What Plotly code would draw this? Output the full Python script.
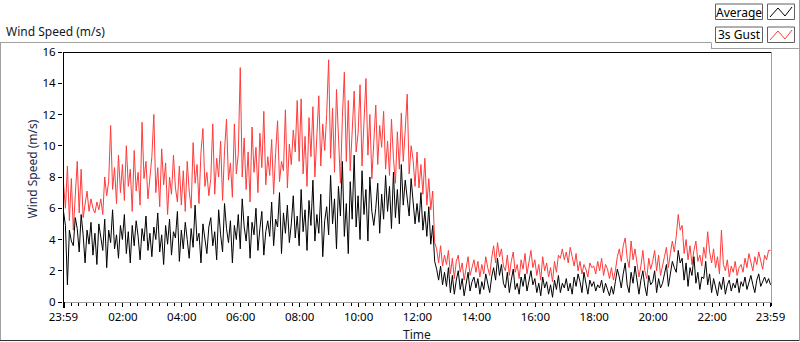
import plotly.graph_objects as go
import pandas as pd

# ---------------- data (4-minute samples) ----------------
start_time = "2024-01-01 23:59"
sample_minutes = 4

average_speed = [
    5.8, 4.9, 1.1, 4.6, 3.9, 3.6, 5.4, 4.7, 3.2, 5.6, 4.3, 2.5, 4.6, 3.7, 5.1,
    3.0, 4.4, 2.4, 5.0, 4.1, 3.3, 5.3, 2.2, 4.6, 3.8, 5.9, 3.4, 4.3, 2.8, 4.9,
    4.0, 5.6, 3.1, 4.5, 2.5, 4.9, 3.6, 5.2, 4.2, 2.7, 4.7, 3.9, 5.5, 3.3, 4.4,
    2.9, 4.8, 4.0, 5.7, 3.2, 4.3, 2.4, 4.9, 3.7, 5.3, 3.0, 4.5, 4.1, 5.8, 2.6,
    4.6, 3.4, 5.1, 4.0, 2.8, 4.7, 3.5, 6.2, 3.9, 4.4, 2.5, 5.0, 4.2, 3.1, 4.8,
    5.4, 3.6, 4.5, 2.7, 5.9, 4.3, 3.2, 6.3, 4.7, 3.8, 5.2, 2.5, 4.9, 4.0, 5.6,
    3.4, 6.6, 4.8, 3.9, 5.5, 2.8, 5.1, 4.3, 6.0, 3.3, 4.7, 5.8, 3.0, 4.5, 5.2,
    4.2, 6.4, 3.6, 5.3, 4.8, 7.0, 3.1, 5.7, 4.4, 6.2, 3.8, 5.0, 6.8, 4.1, 5.5,
    3.6, 7.2, 4.5, 5.9, 3.3, 6.5, 4.9, 7.8, 3.9, 5.6, 4.4, 6.9, 2.9, 5.2, 6.1,
    4.3, 8.1, 5.0, 6.6, 3.4, 7.4, 5.5, 9.0, 4.2, 6.3, 3.1, 7.7, 5.3, 9.4, 4.8,
    6.8, 4.0, 8.4, 5.6, 7.2, 3.9, 8.0, 5.8, 4.9, 6.0, 7.6, 4.4, 6.9, 5.3, 8.1,
    5.8, 7.4, 4.7, 8.3, 5.4, 7.2, 5.0, 8.8, 6.2, 7.8, 6.4, 5.5, 7.9, 6.4, 5.0,
    6.3, 5.1, 7.0, 4.6, 5.8, 4.2, 6.1, 3.7, 4.9, 2.6, 2.1, 1.4, 2.3, 1.1, 1.9,
    1.0, 2.2, 0.6, 1.7, 0.5, 1.4, 2.0, 0.8, 1.5, 0.4, 1.2, 1.9, 0.7, 1.3, 1.6,
    0.9, 1.5, 0.5, 1.3, 0.8, 1.8, 1.1, 0.6, 1.6, 2.2, 1.4, 2.8, 1.7, 2.4, 1.2,
    0.9, 1.9, 0.6, 1.4, 2.1, 0.8, 1.2, 0.5, 1.6, 1.0, 1.8, 0.7, 1.3, 2.0, 1.1,
    1.5, 0.6, 1.2, 0.4, 1.6, 0.9, 1.3, 0.5, 1.1, 0.3, 1.4, 0.8, 1.7, 0.6, 1.2,
    0.9, 1.5, 0.7, 1.2, 0.5, 1.6, 1.0, 1.8, 1.3, 0.6, 1.9, 1.1, 0.5, 1.4, 1.0,
    1.3, 0.7, 1.1, 0.9, 1.4, 0.6, 1.2, 0.8, 0.4, 1.0, 0.5, 1.3, 2.1, 1.6, 0.9,
    1.8, 2.5, 1.1, 0.6, 1.9, 1.2, 2.3, 1.5, 0.5, 1.4, 2.0, 1.0, 0.4, 1.7, 1.1,
    1.3, 2.0, 0.6, 1.5, 0.9, 1.2, 1.8, 2.4, 1.0, 1.7, 2.6, 2.2, 1.9, 3.3, 2.5,
    2.8, 1.4, 2.5, 1.0, 2.2, 1.7, 2.9, 1.2, 1.9, 0.8, 1.6, 1.5, 2.6, 1.1, 1.8,
    0.6, 1.5, 1.0, 0.4, 1.3, 0.8, 1.6, 0.5, 1.1, 1.4, 0.7, 1.2, 0.9, 1.5, 0.6,
    1.3, 1.0, 1.6, 0.8, 1.2, 1.7, 1.1, 0.6, 1.4, 1.8, 1.0, 1.3, 1.6, 1.2, 1.5,
    1.1,
]

gust_speed = [
    7.6, 6.0, 8.7, 5.2, 7.9, 4.6, 6.8, 9.0, 5.7, 8.5, 5.4, 6.3, 7.1, 5.8, 6.6,
    6.0, 5.7, 6.4, 5.9, 6.6, 5.6, 8.0, 6.8, 7.7, 11.3, 7.2, 8.6, 6.3, 9.4, 7.0,
    8.8, 6.5, 10.0, 7.4, 8.5, 5.8, 9.7, 7.1, 8.3, 6.2, 11.5, 7.9, 9.0, 6.6, 8.1,
    9.3, 12.0, 7.0, 8.6, 6.1, 9.8, 7.5, 8.9, 5.6, 8.0, 6.9, 9.4, 7.3, 6.4, 8.7,
    6.2, 8.4, 5.8, 9.0, 7.1, 6.0, 10.2, 7.6, 8.8, 6.3, 9.6, 11.1, 7.4, 8.3, 6.8,
    7.9, 11.4, 6.9, 9.2, 8.0, 10.3, 6.5, 9.7, 11.7, 7.8, 8.9, 6.7, 11.4, 8.2, 9.5,
    15.0, 8.0, 10.5, 7.2, 9.6, 6.4, 11.2, 8.3, 9.9, 7.0, 10.8, 8.6, 12.2, 7.5, 9.3,
    8.1, 10.4, 6.9, 9.5, 11.6, 7.7, 9.0, 8.4, 12.3, 7.3, 10.1, 8.8, 11.0, 9.6, 12.9,
    9.0, 13.0, 8.2, 10.6, 7.4, 11.8, 9.3, 12.5, 8.0, 10.2, 13.2, 8.7, 11.4, 9.7, 12.0,
    15.5, 9.2, 12.4, 8.3, 13.6, 10.1, 7.6, 11.8, 14.7, 9.0, 12.9, 8.4, 11.2, 13.5, 9.6,
    10.8, 13.9, 8.7, 11.5, 14.3, 9.4, 12.0, 7.9, 10.7, 12.6, 8.8, 11.3, 9.9, 12.2, 8.5,
    10.3, 8.1, 11.7, 9.2, 7.6, 10.9, 8.5, 12.1, 9.0, 11.0, 13.3, 8.2, 10.0, 9.1, 7.4,
    9.6, 7.3, 8.8, 6.9, 9.2, 6.2, 7.9, 5.9, 7.1, 3.8, 3.4, 2.5, 3.6, 2.3, 3.0,
    2.4, 3.3, 1.8, 2.8, 1.5, 2.6, 3.0, 1.9, 2.5, 1.4, 2.2, 2.9, 1.7, 2.3, 2.7,
    1.9, 2.6, 1.6, 2.4, 1.8, 2.9, 2.2, 1.7, 2.8, 3.6, 2.5, 3.8, 2.9, 3.4, 2.3,
    2.0, 3.0, 1.7, 2.6, 3.2, 1.9, 2.4, 1.5, 2.7, 2.1, 3.1, 1.8, 2.5, 3.3, 2.2,
    2.7, 1.7, 2.4, 1.4, 2.9, 2.0, 2.5, 1.6, 2.2, 1.3, 2.6, 1.9, 3.0, 2.8, 3.4,
    2.7, 3.2, 2.5, 3.5, 2.9, 2.3, 3.1, 2.0, 2.6, 1.8, 2.4, 2.1, 1.6, 2.5, 2.2,
    2.3, 1.8, 2.6, 2.0, 2.8, 1.7, 2.4, 2.1, 1.5, 2.2, 1.4, 2.0, 2.9, 3.4, 2.6,
    3.6, 4.1, 2.8, 2.2, 3.9, 2.7, 3.4, 2.5, 1.6, 2.3, 3.3, 2.0, 1.5, 2.8, 2.1,
    2.6, 3.3, 2.0, 3.0, 1.7, 2.4, 2.9, 3.5, 2.2, 3.1, 3.9, 3.2, 4.2, 5.6, 4.6,
    4.9, 3.1, 4.0, 2.7, 3.6, 2.4, 3.3, 3.9, 2.6, 3.0, 2.3, 3.5, 2.8, 4.5, 3.2,
    2.5, 3.4, 2.2, 2.9, 1.8, 4.6, 2.4, 2.0, 2.7, 1.6, 2.3, 1.9, 2.6, 1.7, 2.2,
    2.4, 1.9, 2.8, 2.2, 3.1, 2.5, 2.0, 2.9, 2.4, 3.2, 2.6, 2.1, 3.0, 2.7, 3.3,
    3.3,
]

tick_times = ["2024-01-01 23:59", "2024-01-02 02:00", "2024-01-02 04:00",
              "2024-01-02 06:00", "2024-01-02 08:00", "2024-01-02 10:00",
              "2024-01-02 12:00", "2024-01-02 14:00", "2024-01-02 16:00",
              "2024-01-02 18:00", "2024-01-02 20:00", "2024-01-02 22:00",
              "2024-01-02 23:59"]
tick_labels = ["23:59", "02:00", "04:00", "06:00", "08:00", "10:00", "12:00",
               "14:00", "16:00", "18:00", "20:00", "22:00", "23:59"]
y_ticks = [0, 2, 4, 6, 8, 10, 12, 14, 16]

times = pd.date_range(start_time, periods=len(average_speed), freq=f"{sample_minutes}min")

# ---------------- layout geometry ----------------
W, H = 800, 342
ML, MR, MT, MB = 63, 28, 52, 40
PW, PH = W - ML - MR, H - MT - MB


def fx(px):
    return (px - ML) / PW


def fy(py):
    return (H - MB - py) / PH


FONT = "Noto Sans, Segoe UI, DejaVu Sans, sans-serif"
RED = "#ff3b3b"

fig = go.Figure()
fig.add_trace(go.Scatter(x=times, y=gust_speed, mode="lines", name="3s Gust",
                         line=dict(color=RED, width=1), showlegend=False))
fig.add_trace(go.Scatter(x=times, y=average_speed, mode="lines", name="Average",
                         line=dict(color="#000000", width=1), showlegend=False))

t0 = pd.Timestamp(start_time)
fig.update_xaxes(
    type="date",
    range=[t0 - pd.Timedelta(minutes=1), t0 + pd.Timedelta(minutes=1443)],
    tickmode="array", tickvals=tick_times, ticktext=tick_labels,
    ticks="outside", ticklen=4, tickwidth=1, tickcolor="#000",
    tickfont=dict(family=FONT, size=11.5, color="#000"),
    showgrid=False, zeroline=False, showline=False,
    minor=dict(ticks="outside", ticklen=3, tickwidth=1, tickcolor="#000",
               dtick=15 * 60 * 1000, tick0="2024-01-02 00:00", showgrid=False),
)
fig.update_yaxes(
    range=[0, 16], tickmode="array", tickvals=y_ticks,
    ticks="outside", ticklen=4, tickwidth=1, tickcolor="#000",
    tickfont=dict(family=FONT, size=11.5, color="#000"),
    showgrid=False, zeroline=False, showline=False,
)

GRAY = "#a0a0a0"
shapes = []


def seg(x0, y0, x1, y1, color, width=1):
    shapes.append(dict(type="line", xref="paper", yref="paper",
                       x0=fx(x0), y0=fy(y0), x1=fx(x1), y1=fy(y1),
                       line=dict(color=color, width=width), layer="above"))


# outer panel
seg(0, 42.5, 711, 42.5, GRAY)
seg(711.5, 42.5, 711.5, 48.5, GRAY)
seg(711, 48.5, 800, 48.5, GRAY)
seg(0.5, 42.5, 0.5, 341, GRAY)
seg(0, 340.5, 800, 340.5, "#303030")
seg(799.5, 0, 799.5, 341, GRAY)
# plot frame
seg(63, 52.5, 772, 52.5, "#000")
seg(63.5, 52, 63.5, 302, "#000")
seg(771.5, 52, 771.5, 303, GRAY)
seg(63, 302.5, 772, 302.5, GRAY)
# heavier first tick
seg(64, 302, 64, 308, "#000", 2)

# legend boxes
for (ytop, color) in [(4, "#000"), (27, RED)]:
    shapes.append(dict(type="rect", xref="paper", yref="paper",
                       x0=fx(715.5), x1=fx(762.5), y0=fy(ytop), y1=fy(ytop + 15.5),
                       line=dict(color="#606060", width=1), fillcolor="white"))
    shapes.append(dict(type="rect", xref="paper", yref="paper",
                       x0=fx(767.5), x1=fx(794.5), y0=fy(ytop), y1=fy(ytop + 15.5),
                       line=dict(color="#606060", width=1), fillcolor="white"))
    pts = [(770, ytop + 13), (778, ytop + 4), (785, ytop + 12), (792, ytop + 3)]
    path = "M " + " L ".join(f"{fx(a):.5f},{fy(b):.5f}" for a, b in pts)
    shapes.append(dict(type="path", xref="paper", yref="paper", path=path,
                       line=dict(color=color, width=1)))

annotations = [
    dict(text="Wind Speed (m/s)", x=fx(4), y=fy(32), xanchor="left", yanchor="middle",
         font=dict(family=FONT, size=12, color="#101828")),
    dict(text="Wind Speed (m/s)", x=fx(31.5), y=fy(169), textangle=-90,
         xanchor="center", yanchor="middle",
         font=dict(family=FONT, size=12, color="#1c2a4a")),
    dict(text="Time", x=fx(417), y=fy(334), xanchor="center", yanchor="middle",
         font=dict(family=FONT, size=12, color="#101828")),
    dict(text="Average", x=fx(739), y=fy(12), xanchor="center", yanchor="middle",
         font=dict(family=FONT, size=12, color="#000")),
    dict(text="3s Gust", x=fx(739), y=fy(35), xanchor="center", yanchor="middle",
         font=dict(family=FONT, size=12, color="#000")),
]
for a in annotations:
    a.update(xref="paper", yref="paper", showarrow=False)

fig.update_layout(
    width=W, height=H, margin=dict(l=ML, r=MR, t=MT, b=MB, pad=0),
    paper_bgcolor="white", plot_bgcolor="white",
    shapes=shapes, annotations=annotations, showlegend=False,
    font=dict(family=FONT, size=12, color="#000"),
)

fig.write_html("out.html", config={"displayModeBar": False},
               post_script="document.body.style.margin='0';document.body.style.overflow='hidden';")
